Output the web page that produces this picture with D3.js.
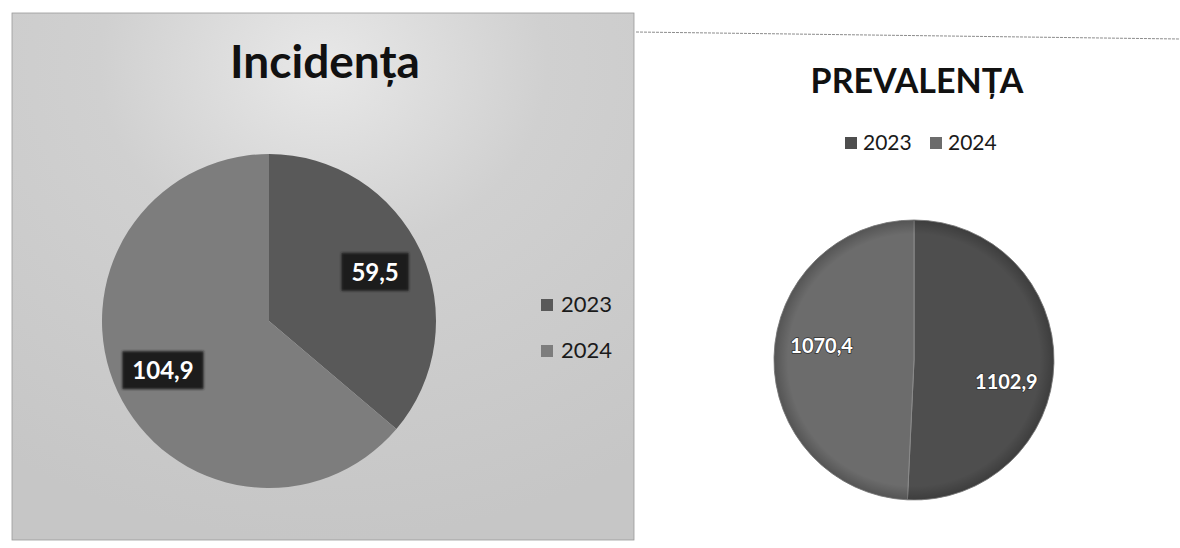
<!DOCTYPE html>
<html>
<head>
<meta charset="utf-8">
<script src="https://cdn.jsdelivr.net/npm/d3@7"></script>
<style>
  body { margin: 0; background: #fff; }
  svg { display: block; font-family: Lato, "Open Sans", sans-serif; }
</style>
</head>
<body>
<svg width="1180" height="548"></svg>
<script>
// values
var years = ["2023", "2024"];
var incidenta = [59.5, 104.9];
var prevalenta = [1102.9, 1070.4];

var fmt = function(v) { return String(v).replace(".", ","); };

var svg = d3.select("svg");
var defs = svg.append("defs");

// left panel: grey slide background, lighter behind the title
var bg = defs.append("radialGradient").attr("id", "bgLeft")
  .attr("cx", "0.5").attr("cy", "0.1").attr("r", "0.9");
bg.append("stop").attr("offset", "0").attr("stop-color", "#e8e8e8");
bg.append("stop").attr("offset", "0.4").attr("stop-color", "#d0d0d0");
bg.append("stop").attr("offset", "1").attr("stop-color", "#c6c6c6");

var shadow = defs.append("filter").attr("id", "soft")
  .attr("x", "-20%").attr("y", "-20%").attr("width", "140%").attr("height", "140%");
shadow.append("feGaussianBlur").attr("stdDeviation", 1.2);

var rim = defs.append("radialGradient").attr("id", "rim");
rim.append("stop").attr("offset", "0.9").attr("stop-color", "#000").attr("stop-opacity", 0);
rim.append("stop").attr("offset", "1").attr("stop-color", "#000").attr("stop-opacity", 0.22);

var g = {
  left: svg.append("g").attr("id", "incidenta"),
  right: svg.append("g").attr("id", "prevalenta")
};

g.left.append("rect")
  .attr("x", 12).attr("y", 13)
  .attr("width", 622).attr("height", 527)
  .attr("fill", "url(#bgLeft)")
  .attr("stroke", "#9a9a9a").attr("stroke-width", 0.8);

// scanned page edge above the right chart
g.right.append("line")
  .attr("x1", 636).attr("y1", 32).attr("x2", 1180).attr("y2", 39)
  .attr("stroke", "#8c8c8c").attr("stroke-width", 1).attr("stroke-dasharray", "3,1");

var pie = d3.pie().sort(null);

// ---------- Incidenta ----------
var colorL = d3.scaleOrdinal().domain(years).range(["#595959", "#7d7d7d"]);
var rL = 167;
var arcL = d3.arc().innerRadius(0).outerRadius(rL);
var labelArcL = d3.arc().innerRadius(rL * 0.7).outerRadius(rL * 0.7);

g.left.append("text")
  .attr("x", 325).attr("y", 78)
  .attr("text-anchor", "middle")
  .attr("font-size", 46).attr("font-weight", 700)
  .attr("fill", "#111")
  .text("Incidența");

var pL = g.left.append("g").attr("transform", "translate(269,321)");
var slicesL = pie(incidenta);
pL.selectAll("path.slice")
  .data(slicesL)
  .enter()
  .append("path")
  .attr("class", "slice")
  .attr("d", arcL)
  .attr("fill", function(d, i) { return colorL(years[i]); });

var labL = pL.selectAll("g.lab")
  .data(slicesL)
  .enter()
  .append("g")
  .attr("class", "lab")
  .attr("transform", function(d) { return "translate(" + labelArcL.centroid(d) + ")"; });

labL.append("rect")
  .attr("y", -19).attr("height", 38)
  .attr("fill", "#1d1d1d").attr("filter", "url(#soft)");
labL.append("text")
  .attr("text-anchor", "middle").attr("dy", "0.36em")
  .attr("font-size", 24).attr("font-weight", 700)
  .attr("fill", "#fff")
  .text(function(d) { return fmt(d.data); });

// box width follows the label
labL.each(function(d) {
  var t = d3.select(this).select("text").node().getComputedTextLength();
  d3.select(this).select("rect").attr("x", -t / 2 - 10).attr("width", t + 20);
});

var legL = g.left.append("g").attr("transform", "translate(541,299)");
var itemL = legL.selectAll("g")
  .data(years)
  .enter()
  .append("g")
  .attr("transform", function(d, i) { return "translate(0," + i * 46 + ")"; });
itemL.append("rect").attr("width", 12).attr("height", 12)
  .attr("fill", function(d) { return colorL(d); });
itemL.append("text")
  .attr("x", 20).attr("y", 13)
  .attr("font-size", 22).attr("fill", "#1a1a1a")
  .text(function(d) { return d; });

// ---------- Prevalenta ----------
var colorR = d3.scaleOrdinal().domain(years).range(["#4e4e4e", "#6c6c6c"]);
var rR = 140;
var arcR = d3.arc().innerRadius(0).outerRadius(rR);
var labelArcR = d3.arc().innerRadius(rR * 0.66).outerRadius(rR * 0.66);
var labelShiftR = [20, -12];

g.right.append("text")
  .attr("x", 917).attr("y", 93)
  .attr("text-anchor", "middle")
  .attr("font-size", 34).attr("font-weight", 700)
  .attr("fill", "#111")
  .text("PREVALENȚA");

var legR = g.right.append("g").attr("transform", "translate(845,137)");
var itemR = legR.selectAll("g")
  .data(years)
  .enter()
  .append("g")
  .attr("transform", function(d, i) { return "translate(" + i * 85 + ",0)"; });
itemR.append("rect").attr("width", 12).attr("height", 12)
  .attr("fill", function(d) { return colorR(d); });
itemR.append("text")
  .attr("x", 18).attr("y", 12.5)
  .attr("font-size", 21).attr("fill", "#1a1a1a")
  .text(function(d) { return d; });

var pR = g.right.append("g").attr("transform", "translate(914,360)");
var slicesR = pie(prevalenta);
pR.selectAll("path.slice")
  .data(slicesR)
  .enter()
  .append("path")
  .attr("class", "slice")
  .attr("d", arcR)
  .attr("fill", function(d, i) { return colorR(years[i]); })
  .attr("stroke", "#8a8a8a").attr("stroke-width", 1);

pR.append("circle").attr("r", rR).attr("fill", "url(#rim)");

pR.selectAll("text.lab")
  .data(slicesR)
  .enter()
  .append("text")
  .attr("class", "lab")
  .attr("transform", function(d, i) {
    var c = labelArcR.centroid(d);
    return "translate(" + c[0] + "," + (c[1] + labelShiftR[i]) + ")";
  })
  .attr("text-anchor", "middle").attr("dy", "0.36em")
  .attr("font-size", 20).attr("font-weight", 700)
  .attr("fill", "#fff")
  .style("paint-order", "stroke")
  .attr("stroke", "#333").attr("stroke-width", 1.5)
  .text(function(d) { return fmt(d.data); });
</script>
</body>
</html>
